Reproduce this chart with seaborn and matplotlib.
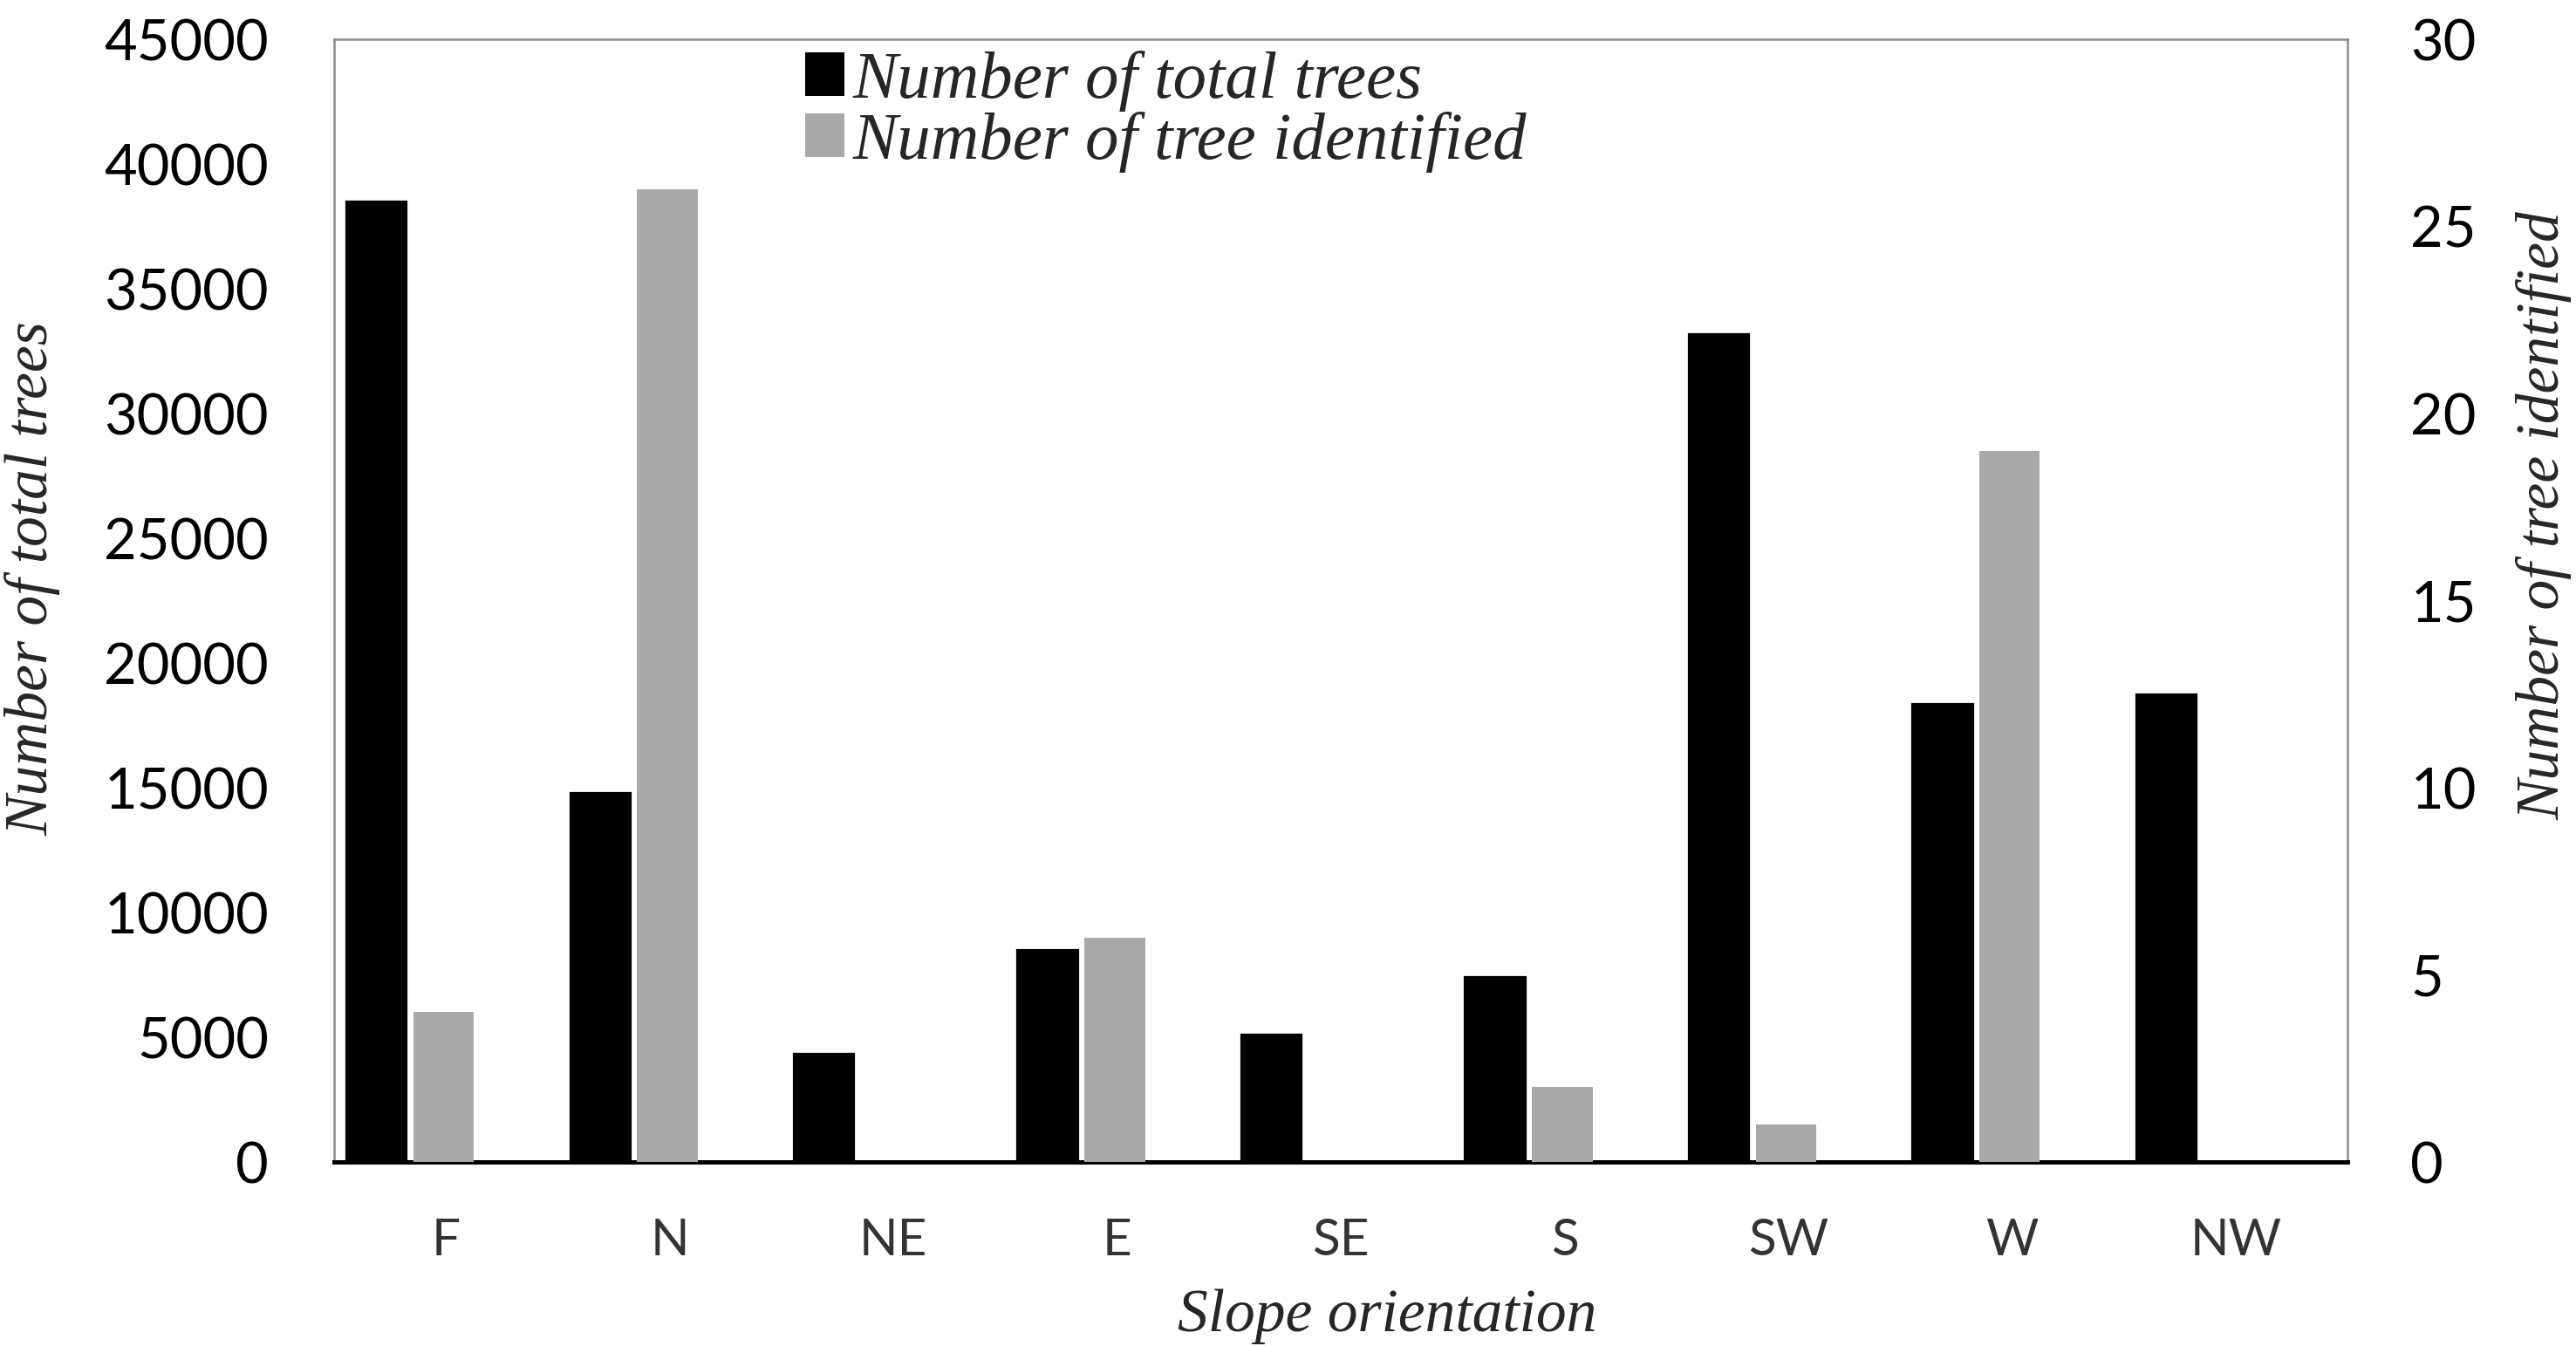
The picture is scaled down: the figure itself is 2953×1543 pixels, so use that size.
import numpy as np
import pandas as pd
import matplotlib
matplotlib.use("Agg")
import matplotlib.pyplot as plt
import seaborn as sns

# values
categories = ["F", "N", "NE", "E", "SE", "S", "SW", "W", "NW"]
total_trees = [38500, 14800, 4350, 8500, 5100, 7400, 33200, 18350, 18750]
trees_identified = [4, 26, 0, 6, 0, 2, 1, 19, 0]
series_names = ["Number of total trees", "Number of tree identified"]
left_ticks = np.arange(0, 45001, 5000)
right_ticks = np.arange(0, 31, 5)

total_df = pd.DataFrame({"orientation": categories, "count": total_trees,
                         "series": series_names[0]})
ident_df = pd.DataFrame({"orientation": categories, "count": trees_identified,
                         "series": series_names[1]})
palette = {series_names[0]: "black", series_names[1]: "#a9a9a9"}

sns.set_style("white")
plt.rcParams["font.family"] = ["Lato", "DejaVu Sans"]

serif = dict(family="Liberation Serif", style="italic")

fig = plt.figure(figsize=(14.765, 7.715), dpi=200)
ax = fig.add_axes([0.1297, 0.1367, 0.7816, 0.8341])
ax2 = ax.twinx()

# black bars on the left axis, grey bars on the right axis, same dodge slots
sns.barplot(data=total_df, x="orientation", y="count", hue="series",
            order=categories, hue_order=series_names, palette=palette,
            saturation=1, width=0.6, gap=0.1, dodge=True, edgecolor="black",
            linewidth=0.8, legend=False, ax=ax)
sns.barplot(data=ident_df, x="orientation", y="count", hue="series",
            order=categories, hue_order=series_names, palette=palette,
            saturation=1, width=0.6, gap=0.1, dodge=True, linewidth=0, ax=ax2)

ax.set_ylim(0, 45000)
ax.set_yticks(left_ticks)
ax2.set_ylim(0, 30)
ax2.set_yticks(right_ticks)

# Excel puts the category labels a bit right of the bar groups
ax.set_xlim(-0.34, len(categories) - 0.34)
ax.set_xticks(np.arange(len(categories)) + 0.16, labels=categories)

ax.tick_params(axis="y", length=0, pad=27, labelsize=23.4, labelcolor="black")
ax2.tick_params(axis="y", length=0, pad=26, labelsize=23.4, labelcolor="black")
ax.tick_params(axis="x", length=0, pad=23, labelsize=21, labelcolor="#333333")

for s in ax2.spines.values():
    s.set_visible(False)
for side in ["left", "top", "right"]:
    ax.spines[side].set_color("#8c8c8c")
    ax.spines[side].set_linewidth(0.9)
ax.spines["bottom"].set_color("black")
ax.spines["bottom"].set_linewidth(1.8)
ax.spines["bottom"].set_zorder(5)

ax.set_xlabel("Slope orientation", fontsize=25, **serif)
ax.xaxis.set_label_coords(0.523, -0.113)
ax.set_ylabel("Number of total trees", fontsize=25, **serif)
ax.yaxis.set_label_coords(-0.136, 0.52)
ax2.set_ylabel("Number of tree identified", fontsize=25, **serif)
ax2.yaxis.set_label_coords(1.084, 0.576)

sns.move_legend(ax2, "upper left", bbox_to_anchor=(0.234, 0.99), title=None,
                frameon=False, prop=dict(size=27.7, **serif),
                handlelength=0.58, handleheight=0.61, handletextpad=0.13,
                labelspacing=0.0, borderpad=0, borderaxespad=0)

fig.savefig("out.png", dpi=200, facecolor="white")
